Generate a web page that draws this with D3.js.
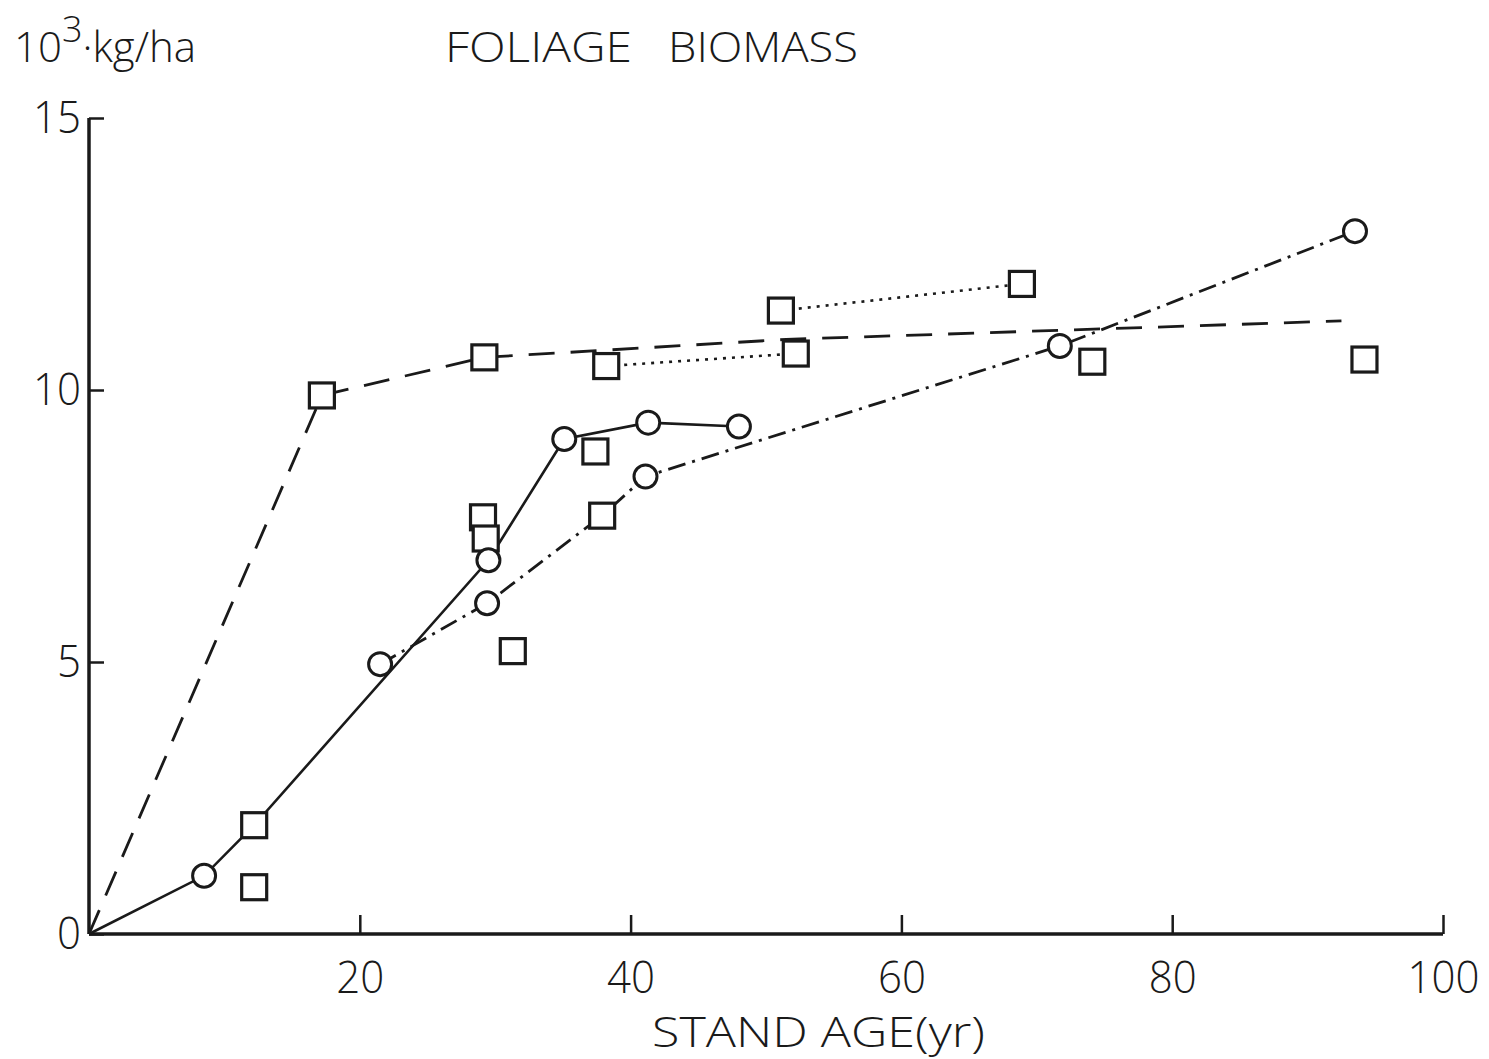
<!DOCTYPE html>
<html>
<head>
<meta charset="utf-8">
<script src="https://cdn.jsdelivr.net/npm/d3@7"></script>
<style>
  html, body { margin: 0; padding: 0; background: #fff; }
  svg { display: block; }
  text { font-family: "Open Sans", "Liberation Sans", sans-serif; font-weight: 350; fill: #1a1a1a; }
</style>
</head>
<body>
<svg id="chart" width="1489" height="1059"></svg>
<script>
// ---- data ----
const xTicks = [20, 40, 60, 80, 100];
const yTicks = [0, 5, 10, 15];
const titleWords = ["FOLIAGE", "BIOMASS"];

// dashed curve
const dashedX = [0, 17.2, 29.2, 51.5, 92.5];
const dashedY = [0, 9.9, 10.6, 10.93, 11.27];

// solid curve
const solidX = [0, 8.5, 12.2, 29.5, 35.1, 41.3, 48.0];
const solidY = [0, 1.07, 2.0, 6.87, 9.1, 9.4, 9.33];

// dash-dot curve
const dashDotX = [21.5, 29.4, 37.9, 41.1, 71.7, 93.5];
const dashDotY = [4.96, 6.08, 7.69, 8.41, 10.81, 12.92];

// dotted segments
const dotted1X = [51.1, 68.9];
const dotted1Y = [11.46, 11.95];
const dotted2X = [38.2, 52.2];
const dotted2Y = [10.44, 10.67];

// markers
const circleX = [8.5, 29.5, 35.1, 41.3, 48.0, 21.5, 29.4, 41.1, 71.7, 93.5];
const circleY = [1.07, 6.87, 9.1, 9.4, 9.33, 4.96, 6.08, 8.41, 10.81, 12.92];
const squareX = [17.2, 29.2, 12.2, 37.9, 51.1, 68.9, 38.2, 52.2, 12.2, 29.1, 29.3, 31.3, 37.4, 74.1, 94.2];
const squareY = [9.9, 10.6, 2.0, 7.69, 11.46, 11.95, 10.44, 10.67, 0.86, 7.66, 7.27, 5.2, 8.87, 10.52, 10.56];

// ---- drawing ----
const ink = "#1a1a1a";
const svg = d3.select("#chart");
const x = d3.scaleLinear().domain([0, 100]).range([89, 1443]);
const y = d3.scaleLinear().domain([0, 15]).range([934, 118]);

// axes
const xAxis = d3.axisBottom(x).tickValues(xTicks).tickSizeInner(-19).tickSizeOuter(0).tickPadding(28);
const gx = svg.append("g").attr("transform", `translate(0,${y(0)})`).call(xAxis);
gx.select(".domain").attr("stroke", ink).attr("stroke-width", 3.5).attr("d", `M${x(0)},0H${x(100)}`);
gx.selectAll(".tick line").attr("stroke", ink).attr("stroke-width", 2.5);
gx.selectAll(".tick text").attr("font-size", 44).attr("fill", ink).attr("font-family", null)
  .attr("textLength", d => String(d).length * 24).attr("lengthAdjust", "spacingAndGlyphs");

const yAxis = d3.axisLeft(y).tickValues(yTicks).tickSizeInner(-15).tickSizeOuter(0).tickPadding(8);
const gy = svg.append("g").attr("transform", `translate(${x(0)},0)`).call(yAxis);
gy.select(".domain").attr("stroke", ink).attr("stroke-width", 3.5).attr("d", `M0,${y(0)}V${y(15)}`);
gy.selectAll(".tick line").attr("stroke", ink).attr("stroke-width", 2.5);
gy.selectAll(".tick text").attr("font-size", 44).attr("fill", ink).attr("font-family", null)
  .attr("textLength", d => String(d).length * 24).attr("lengthAdjust", "spacingAndGlyphs");

// lines
const line = d3.line().x(d => x(d[0])).y(d => y(d[1]));
function drawLine(xs, ys, dash, w) {
  svg.append("path")
    .datum(xs.map((v, i) => [v, ys[i]]))
    .attr("d", line)
    .attr("fill", "none")
    .attr("stroke", ink)
    .attr("stroke-width", w)
    .attr("stroke-dasharray", dash);
}
drawLine(dashedX, dashedY, "26,16", 2.8);
drawLine(solidX, solidY, null, 2.6);
drawLine(dashDotX, dashDotY, "18,7,3,7", 2.8);
drawLine(dotted1X, dotted1Y, "3,6", 2.6);
drawLine(dotted2X, dotted2Y, "3,6", 2.6);

// markers
const sq = 25;
svg.append("g").selectAll("rect")
  .data(squareX.map((v, i) => [v, squareY[i]]))
  .join("rect")
  .attr("x", d => x(d[0]) - sq / 2)
  .attr("y", d => y(d[1]) - sq / 2)
  .attr("width", sq).attr("height", sq)
  .attr("fill", "#fff").attr("stroke", ink).attr("stroke-width", 3.2);

svg.append("g").selectAll("circle")
  .data(circleX.map((v, i) => [v, circleY[i]]))
  .join("circle")
  .attr("cx", d => x(d[0]))
  .attr("cy", d => y(d[1]))
  .attr("r", 11.5)
  .attr("fill", "#fff").attr("stroke", ink).attr("stroke-width", 3);

// texts
const titlePos = [[445, 187], [668, 190]];
titleWords.forEach((w, i) => {
  svg.append("text")
    .attr("x", titlePos[i][0]).attr("y", 62)
    .attr("font-size", 43)
    .attr("textLength", titlePos[i][1]).attr("lengthAdjust", "spacingAndGlyphs")
    .text(w);
});

const yl = svg.append("text").attr("x", 14).attr("y", 62).attr("font-size", 42);
yl.append("tspan").text("10");
yl.append("tspan").attr("font-size", 36).attr("dy", -20).text("3");
yl.append("tspan").attr("dy", 20).text("·kg/ha");

svg.append("text")
  .attr("x", 652).attr("y", 1047)
  .attr("font-size", 42)
  .attr("textLength", 333).attr("lengthAdjust", "spacingAndGlyphs")
  .text("STAND AGE(yr)");
</script>
</body>
</html>
